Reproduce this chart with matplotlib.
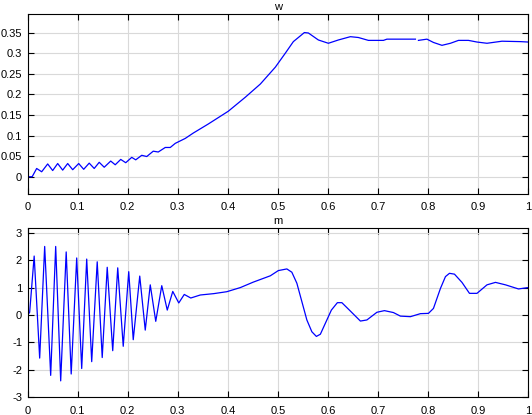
import matplotlib
matplotlib.use("Agg")
import matplotlib.pyplot as plt
import numpy as np

# top panel "w" (NaN = gap in the trace)
w_x = [0.0, 0.009, 0.018, 0.028, 0.04, 0.05, 0.06, 0.07, 0.08, 0.09, 0.102,
       0.112, 0.123, 0.133, 0.143, 0.153, 0.166, 0.175, 0.186, 0.196, 0.208,
       0.216, 0.228, 0.238, 0.251, 0.261, 0.275, 0.285, 0.295, 0.305, 0.315,
       0.331, 0.361, 0.401, 0.435, 0.465, 0.495, 0.515, 0.531, 0.553, 0.561,
       0.581, 0.601, 0.621, 0.645, 0.661, 0.681, 0.711, 0.718, 0.775, 0.778,
       0.781, 0.798, 0.811, 0.828, 0.845, 0.861, 0.881, 0.898, 0.918, 0.948,
       0.985, 1.0]
w_y = [0.0, 0.0, 0.020, 0.012, 0.031, 0.015, 0.032, 0.016, 0.032, 0.017, 0.032,
       0.018, 0.033, 0.020, 0.035, 0.023, 0.038, 0.029, 0.042, 0.034, 0.047,
       0.041, 0.052, 0.049, 0.062, 0.060, 0.071, 0.071, 0.081, 0.087, 0.093,
       0.106, 0.128, 0.159, 0.193, 0.225, 0.266, 0.300, 0.328, 0.350, 0.349,
       0.332, 0.324, 0.332, 0.340, 0.338, 0.331, 0.331, 0.334, 0.334, np.nan,
       0.331, 0.334, 0.326, 0.319, 0.324, 0.331, 0.331, 0.327, 0.324, 0.329,
       0.328, 0.327]

# bottom panel "m"
m_x = [0.0, 0.004, 0.013, 0.024, 0.034, 0.046, 0.056, 0.066, 0.077, 0.087,
       0.098, 0.108, 0.118, 0.128, 0.139, 0.149, 0.159, 0.170, 0.180, 0.191,
       0.202, 0.211, 0.224, 0.235, 0.245, 0.256, 0.268, 0.279, 0.290, 0.302,
       0.313, 0.326, 0.345, 0.372, 0.398, 0.425, 0.451, 0.485, 0.501, 0.518,
       0.528, 0.538, 0.548, 0.558, 0.568, 0.577, 0.585, 0.595, 0.607, 0.619,
       0.628, 0.643, 0.665, 0.678, 0.698, 0.713, 0.731, 0.745, 0.765, 0.785,
       0.801, 0.811, 0.825, 0.835, 0.843, 0.853, 0.868, 0.883, 0.898, 0.918,
       0.935, 0.955, 0.981, 1.0]
m_y = [0.0, 0.1, 2.15, -1.57, 2.5, -2.2, 2.5, -2.4, 2.3, -2.15, 2.08, -1.95,
       2.04, -1.7, 1.94, -1.55, 1.74, -1.3, 1.72, -1.14, 1.58, -0.9, 1.42,
       -0.55, 1.1, -0.23, 1.07, 0.18, 0.86, 0.44, 0.75, 0.62, 0.73, 0.78, 0.85,
       1.0, 1.2, 1.43, 1.62, 1.68, 1.56, 1.16, 0.49, -0.18, -0.61, -0.78, -0.7,
       -0.3, 0.18, 0.45, 0.45, 0.18, -0.22, -0.18, 0.1, 0.16, 0.09, -0.04,
       -0.06, 0.05, 0.06, 0.24, 0.97, 1.4, 1.52, 1.49, 1.19, 0.79, 0.79, 1.1,
       1.19, 1.1, 0.95, 1.0]

w_yticks = [0, 0.05, 0.1, 0.15, 0.2, 0.25, 0.3, 0.35]
m_yticks = [-3, -2, -1, 0, 1, 2, 3]
xticks = [0, 0.1, 0.2, 0.3, 0.4, 0.5, 0.6, 0.7, 0.8, 0.9, 1]

plt.rcParams['font.family'] = ['Liberation Sans', 'DejaVu Sans']
plt.rcParams['font.size'] = 8

fig = plt.figure(figsize=(5.32, 4.15), dpi=100)
ax1 = fig.add_axes([0.052, 0.5325, 0.9405, 0.4337])
ax2 = fig.add_axes([0.052, 0.0426, 0.9405, 0.4072])


def style(ax, yticks, ylim, title):
    ax.set_xlim(0, 1)
    ax.set_ylim(*ylim)
    ax.set_xticks(xticks)
    ax.set_xticklabels([f"{t:g}" for t in xticks])
    ax.set_yticks(yticks)
    ax.set_yticklabels([f"{t:g}" for t in yticks])
    ax.grid(True, color='#d9d9d9', linewidth=0.8)
    ax.set_axisbelow(True)
    ax.tick_params(direction='in', length=4, width=0.8, top=True, right=True,
                   labelsize=8)
    ax.tick_params(axis='y', pad=4)
    ax.tick_params(axis='x', pad=6)
    for s in ax.spines.values():
        s.set_linewidth(0.8)
    ax.set_title(title, fontsize=8, pad=3)


ax1.plot(w_x, w_y, color='#0000ff', linewidth=0.9)
style(ax1, w_yticks, (-0.042, 0.395), 'w')

ax2.plot(m_x, m_y, color='#0000ff', linewidth=0.9)
style(ax2, m_yticks, (-3, 3.16), 'm')

fig.savefig('out.png', dpi=100)
